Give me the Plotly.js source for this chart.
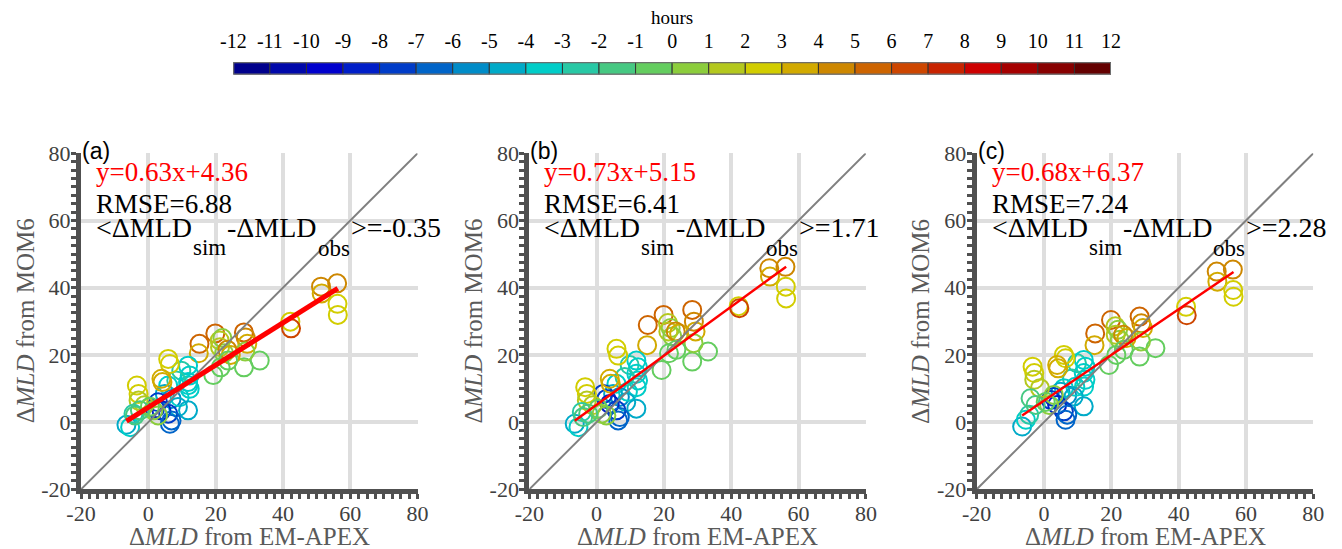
<!DOCTYPE html>
<html>
<head>
<meta charset="utf-8">
<script src="https://cdn.plot.ly/plotly-3.0.1.min.js"></script>
<style>html,body{margin:0;padding:0;background:#fff;}#chart{width:1342px;height:549px;}</style>
</head>
<body>
<div id="chart"></div>
<script>
// ---- data ----
const hourTicks = [-12,-11,-10,-9,-8,-7,-6,-5,-4,-3,-2,-1,0,1,2,3,4,5,6,7,8,9,10,11,12];
const binColors = ['rgb(0,0,140)','rgb(0,8,170)','rgb(0,0,205)','rgb(0,30,200)','rgb(0,60,200)','rgb(0,100,200)',
  'rgb(0,140,200)','rgb(0,170,200)','rgb(0,205,200)','rgb(40,200,165)','rgb(70,200,130)','rgb(100,205,95)',
  'rgb(140,205,60)','rgb(180,200,30)','rgb(210,205,0)','rgb(210,170,0)','rgb(205,135,0)','rgb(205,100,0)',
  'rgb(205,70,0)','rgb(200,35,0)','rgb(205,0,0)','rgb(165,0,0)','rgb(135,0,0)','rgb(100,0,0)'];
const binCenters = [-11.5,-10.5,-9.5,-8.5,-7.5,-6.5,-5.5,-4.5,-3.5,-2.5,-1.5,-0.5,0.5,1.5,2.5,3.5,4.5,5.5,6.5,7.5,8.5,9.5,10.5,11.5];

const xObs = [51.3,51.5,56.1,56.2,56.3,42.2,42.4,28.4,28.9,29.4,28.4,33.1,28.8,19.9,21.2,22.0,21.3,22.5,24.5,23.5,
  19.3,21.5,23.7,15.2,15.0,9.8,11.8,12.3,11.8,12.3,11.9,8.3,5.9,4.9,6.9,9.3,8.8,11.8,2.0,2.9,
  3.9,5.9,6.9,6.4,-3.4,-2.9,-2.9,5.9,6.4,3.9,4.2,-1.2,1.5,2.9,-6.5,-5.4,-4.4,-2.5,-4.0,0.5];
const hours = [4.5,3.5,4.5,2.5,2.5,2.5,6.5,5.5,4.5,3.5,-0.5,-0.5,0.5,5.5,1.5,0.5,1.5,0.5,3.5,4.5,
  -0.5,-0.5,-0.5,5.5,3.5,-2.5,-3.5,-3.5,-3.5,-3.5,-3.5,-2.5,-3.5,-4.5,-5.5,-3.5,-4.5,-4.5,-7.5,-7.5,
  -8.5,-7.5,-6.5,-6.5,2.5,2.5,1.5,2.5,2.5,3.5,3.5,1.5,0.5,0.5,-4.5,-3.5,-2.5,-1.5,-1.5,-0.5];
const yA = [40.3,38.3,41.3,35.2,31.9,29.9,27.9,26.7,25.2,23.3,16.3,18.3,21.0,26.4,24.3,25.0,22.3,20.5,20.0,21.5,
  14.0,16.3,18.3,23.3,20.5,15.3,16.8,13.9,11.9,9.9,11.0,12.4,10.9,8.4,6.9,7.4,4.5,3.5,4.0,5.9,
  3.5,2.5,0.5,-0.5,10.9,8.4,6.4,18.8,17.3,12.9,11.9,5.0,3.5,2.0,-0.8,-1.5,2.5,3.5,2.0,4.6];
const yB = [45.8,43.3,46.2,40.3,36.8,34.5,33.9,33.4,29.9,27.0,18.0,21.0,23.5,31.9,29.5,28.0,27.0,25.5,26.4,27.0,
  15.5,20.5,21.5,28.9,22.9,17.0,18.3,16.3,14.4,12.4,10.4,13.4,11.4,8.4,7.5,9.0,5.9,4.0,8.4,6.9,
  5.4,3.5,1.5,0.5,10.4,8.4,6.4,21.8,19.8,12.9,11.4,5.0,2.5,2.0,-0.5,-1.5,3.0,2.5,1.5,4.0];
const yC = [44.8,41.8,45.4,39.3,37.3,34.3,31.8,31.4,29.4,28.0,19.5,22.0,24.0,30.4,28.5,27.5,26.0,24.5,25.0,26.0,
  17.0,20.0,21.5,26.4,22.9,17.5,18.5,16.5,14.6,12.6,10.6,13.0,10.1,9.0,8.0,10.5,7.6,4.7,6.6,7.5,
  5.1,3.2,2.2,0.7,16.5,14.6,12.6,20.0,19.0,17.0,16.0,10.1,5.1,8.1,-1.3,0.7,2.2,5.1,7.1,6.0];

const panelLetters = ['(a)','(b)','(c)'];
const slopes = [0.63, 0.73, 0.68];
const intercepts = [4.36, 5.15, 6.37];
const rmse = ['6.88','6.41','7.24'];
const bias = ['-0.35','1.71','2.28'];
const oneToOne = [-20, 80];
const axisTicks = [-20, 0, 20, 40, 60, 80];

// ---- build ----
const W = 1342, H = 549;
const px = v => v / W, py = v => 1 - v / H;
const panelX0 = [81, 529.3, 976.7];
const panelW = 336.6;
const plotTop = 153.3, plotBot = 489.3;

const cs = [];
binColors.forEach((c, i) => { cs.push([i/24, c]); cs.push([(i+1)/24, c]); });

const serifName = 'Liberation Serif';
const serif = '"Liberation Serif", serif';
const sans = '"Liberation Sans", sans-serif';
const ys = [yA, yB, yC];
const traces = [];
const annotations = [];
const layout = {
  width: W, height: H, margin: {l:0, r:0, t:0, b:0},
  paper_bgcolor: '#fff', plot_bgcolor: '#fff', showlegend: false,
  font: {family: serif},
  annotations: annotations, shapes: []
};

const cvs = document.createElement('canvas').getContext('2d');
function textW(s, size) { cvs.font = size + 'px "' + serifName + '"'; return cvs.measureText(s).width; }

const xmin = Math.min(...xObs), xmax = Math.max(...xObs);

for (let p = 0; p < 3; p++) {
  const sfx = p === 0 ? '' : String(p + 1);
  const xa = 'x' + sfx, ya = 'y' + sfx;
  traces.push({
    type: 'scatter', mode: 'markers', x: xObs, y: ys[p], xaxis: xa, yaxis: ya,
    marker: {symbol: 'circle-open', size: 18, color: hours, colorscale: cs, cmin: -12, cmax: 12,
             showscale: false, line: {width: 2}},
    hoverinfo: 'skip'
  });
  traces.push({
    type: 'scatter', mode: 'lines', x: oneToOne, y: oneToOne, xaxis: xa, yaxis: ya,
    line: {color: 'rgb(128,128,128)', width: 2}, hoverinfo: 'skip'
  });
  const lx = [xmin, xmax];
  traces.push({
    type: 'scatter', mode: 'lines', x: lx, y: lx.map(v => slopes[p]*v + intercepts[p]), xaxis: xa, yaxis: ya,
    line: {color: 'rgb(255,0,0)', width: p === 0 ? 5 : 2.5}, hoverinfo: 'skip'
  });
  const axCommon = {
    range: [-20, 80], tickvals: axisTicks, ticktext: axisTicks.map(String),
    showgrid: true, gridcolor: 'rgb(222,222,222)', gridwidth: 4, zeroline: false,
    showline: true, linecolor: 'rgb(80,80,80)', linewidth: 5,
    ticks: 'outside', ticklen: 4, tickwidth: 3, tickcolor: 'rgb(80,80,80)',
    minor: {dtick: 2.5, ticks: 'outside', ticklen: 5, tickwidth: 3, tickcolor: 'rgb(80,80,80)', showgrid: false},
    tickfont: {family: serif, size: 22, color: 'rgb(64,64,64)'}, fixedrange: true
  };
  layout['xaxis' + sfx] = Object.assign({}, axCommon, {
    domain: [px(panelX0[p]), px(panelX0[p] + panelW)], anchor: ya, ticklabelstandoff: -4
  });
  layout['yaxis' + sfx] = Object.assign({}, axCommon, {
    domain: [py(plotBot), py(plotTop)], anchor: xa, ticklabelstandoff: -3
  });
  const x0 = panelX0[p];
  const ann = (x, y, text, font, extra) => annotations.push(Object.assign({xref:'paper', yref:'paper',
    x: px(x), y: py(y), xanchor:'left', yanchor:'middle', text: text, showarrow:false, borderpad:0, borderwidth:0, font: font}, extra || {}));
  ann(x0 + 1, 151, panelLetters[p], {family: sans, size: 23, color: '#000'});
  ann(x0 + 15, 171.5, 'y=' + slopes[p].toFixed(2) + 'x+' + intercepts[p].toFixed(2), {family: serif, size: 27, color: 'rgb(255,0,0)'});
  ann(x0 + 15, 204, 'RMSE=' + rmse[p], {family: serif, size: 27, color: '#000'});
  // bias line, with lowered subscripts
  const mainSize = 28, subSize = 23;
  const pieces = [['<ΔMLD', mainSize, 227], ['sim', subSize, 247], ['-ΔMLD', mainSize, 227], ['obs', subSize, 248], ['>=' + bias[p], mainSize, 227]];
  let cx = x0 + 15;
  pieces.forEach(([t, s, y]) => {
    ann(cx, y, t.replace(/</g, '&lt;').replace(/>/g, '&gt;'), {family: serif, size: s, color: '#000'});
    cx += textW(t, s) + 1;
  });
  ann(x0 + panelW/2, 536, 'Δ<i>MLD</i> from EM-APEX', {family: serif, size: 25, color: 'rgb(90,90,90)'}, {xanchor: 'center'});
  ann(x0 - 56, (plotTop+plotBot)/2, 'Δ<i>MLD</i> from MOM6', {family: serif, size: 25, color: 'rgb(90,90,90)'}, {xanchor: 'center', textangle: -90});
}

// colour bar drawn as bars on its own axes
traces.push({
  type: 'bar', x: binCenters, y: binCenters.map(() => 1), width: binCenters.map(() => 1),
  xaxis: 'x4', yaxis: 'y4',
  marker: {color: binCenters, colorscale: cs, cmin: -12, cmax: 12, showscale: false,
           line: {color: 'rgb(50,50,50)', width: 1}},
  hoverinfo: 'skip'
});
layout.xaxis4 = {
  domain: [px(233.3), px(1111)], anchor: 'y4', side: 'top', range: [-12, 12],
  tickvals: hourTicks, ticktext: hourTicks.map(String), ticks: 'outside', ticklen: 5, tickcolor: 'rgba(0,0,0,0)',
  showgrid: false, zeroline: false, showline: false,
  tickfont: {family: serif, size: 20, color: '#000'}, fixedrange: true
};
layout.yaxis4 = {domain: [py(74.5), py(62.3)], anchor: 'x4', range: [0, 1], visible: false, fixedrange: true};
layout.shapes.push({type:'rect', xref:'x4', yref:'y4', x0:-12, x1:12, y0:0, y1:1,
  line:{color:'rgb(110,110,110)', width:2}, fillcolor:'rgba(0,0,0,0)'});
annotations.push({xref:'paper', yref:'paper', x: px(672), y: py(17), xanchor:'center', yanchor:'middle',
  text:'hours', showarrow:false, font:{family: serif, size:19, color:'#000'}});

Plotly.newPlot('chart', traces, layout, {staticPlot: true});
</script>
</body>
</html>
